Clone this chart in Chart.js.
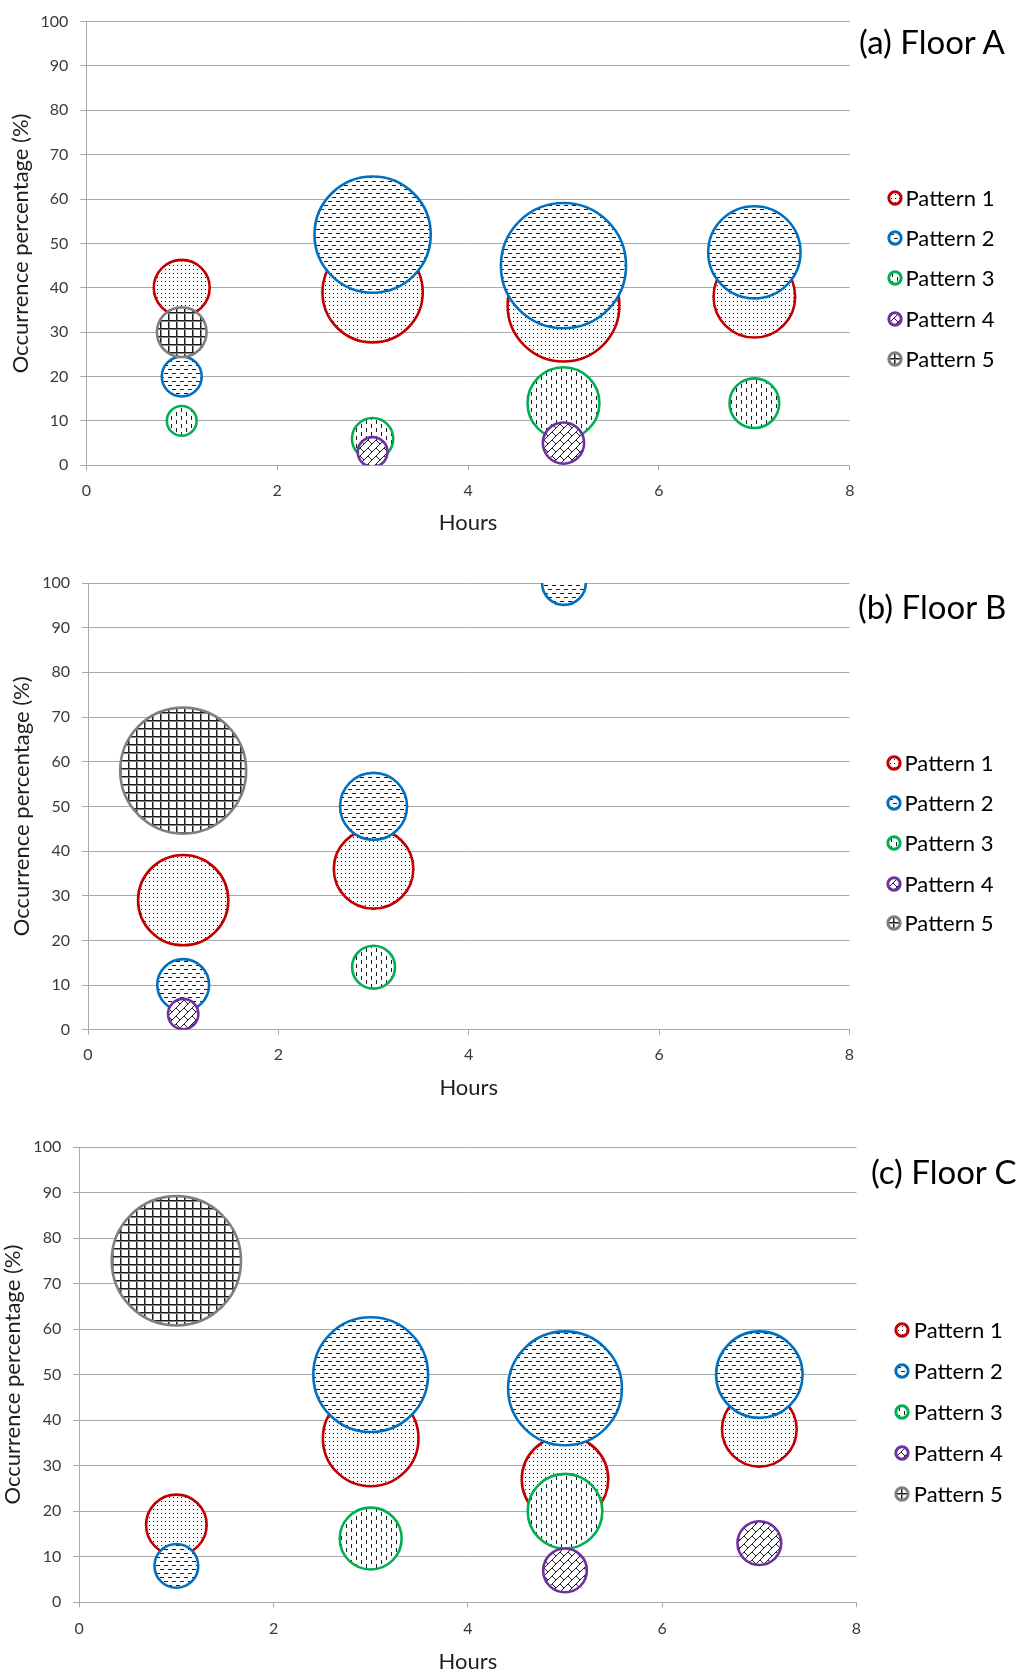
<!DOCTYPE html>
<html>
<head>
<meta charset="utf-8">
<script src="https://cdn.jsdelivr.net/npm/chart.js@4.4.1/dist/chart.umd.min.js"></script>
<style>
  html, body { margin: 0; padding: 0; background: #fff; }
  #page { position: relative; width: 1027px; height: 1675px; overflow: hidden; font-family: Lato, 'Open Sans', sans-serif; }
  canvas.panel { position: absolute; left: 0; }
  .ttl { position: absolute; font-size: 33px; line-height: 40px; color: #000; white-space: nowrap; }
  .lgtext { position: absolute; font-size: 22px; color: #000; white-space: nowrap; }
  .lgmark { position: absolute; }
</style>
</head>
<body>
<div id="page">
  <canvas id="cA" class="panel" width="1027" height="545" style="top:0px"></canvas>
  <canvas id="cB" class="panel" width="1027" height="545" style="top:560px"></canvas>
  <canvas id="cC" class="panel" width="1027" height="555" style="top:1120px"></canvas>
  <div class="ttl" style="left:859px; top:20.5px">(a) Floor A</div>
  <div class="ttl" style="left:858px; top:585.5px">(b) Floor B</div>
  <div class="ttl" style="left:871px; top:1150.5px">(c) Floor C</div>
</div>
<script>
// ---------------- DATA ----------------
const HOURS = [1, 3, 5, 7];
const PATTERNS = ['Pattern 1', 'Pattern 2', 'Pattern 3', 'Pattern 4', 'Pattern 5'];
const X_TICKS = [0, 2, 4, 6, 8];
const Y_TICKS = [0, 10, 20, 30, 40, 50, 60, 70, 80, 90, 100];

// Occurrence percentage (%) at hours 1, 3, 5, 7 (null = no bubble)
const A_P1 = [40, 39, 36, 38];
const A_P2 = [20, 52, 45, 48];
const A_P3 = [10, 6, 14, 14];
const A_P4 = [null, 3, 5, null];
const A_P5 = [30, null, null, null];
// bubble radius, in percentage points of the value axis
const A_P1_SIZE = [6.3, 11.3, 12.6, 9.2];
const A_P2_SIZE = [4.5, 13.1, 14.1, 10.4];
const A_P3_SIZE = [3.35, 4.65, 8.1, 5.6];
const A_P4_SIZE = [null, 3.35, 4.65, null];
const A_P5_SIZE = [5.6, null, null, null];

const B_P1 = [29, 36, null, null];
const B_P2 = [10, 50, 100, null];
const B_P3 = [null, 14, null, null];
const B_P4 = [3.5, null, null, null];
const B_P5 = [58, null, null, null];
const B_P1_SIZE = [10.1, 8.9, null, null];
const B_P2_SIZE = [5.8, 7.5, 4.9, null];
const B_P3_SIZE = [null, 4.8, null, null];
const B_P4_SIZE = [3.4, null, null, null];
const B_P5_SIZE = [14.1, null, null, null];

const C_P1 = [17, 36, 27, 38];
const C_P2 = [8, 50, 47, 50];
const C_P3 = [null, 14, 20, null];
const C_P4 = [null, null, 7, 13];
const C_P5 = [75, null, null, null];
const C_P1_SIZE = [6.65, 10.5, 9.5, 8.2];
const C_P2_SIZE = [4.8, 12.6, 12.5, 9.5];
const C_P3_SIZE = [null, 6.8, 8.2, null];
const C_P4_SIZE = [null, null, 4.8, 4.8];
const C_P5_SIZE = [14.2, null, null, null];

// ---------------- STYLE ----------------
const COLORS = ['#C00000', '#0070C0', '#00B050', '#7030A0', '#7F7F7F'];
const GRID = '#a9a9a9';

function makeTile(kind) {
  const t = document.createElement('canvas');
  const dims = [[4, 4], [8, 8], [10, 8], [16, 16], [8, 8]][kind];
  t.width = dims[0]; t.height = dims[1];
  const g = t.getContext('2d');
  g.fillStyle = '#fff'; g.fillRect(0, 0, t.width, t.height);
  g.fillStyle = '#1c1c1c'; g.strokeStyle = '#1c1c1c';
  if (kind === 0) {            // fine dots
    g.fillRect(1, 1, 1, 1);
  } else if (kind === 1) {     // horizontal dashes
    g.fillRect(0, 1, 4, 1); g.fillRect(4, 5, 4, 1);
  } else if (kind === 2) {     // vertical dashes
    g.fillRect(1, 0, 1, 4); g.fillRect(6, 4, 1, 4);
  } else if (kind === 3) {     // shingle / diagonal brick
    g.lineWidth = 1;
    g.beginPath();
    for (let ox = -16; ox <= 16; ox += 16) {
      for (let oy = -16; oy <= 16; oy += 16) {
        for (const c of [0, 8, 16, 24, 32]) { g.moveTo(ox + c, oy); g.lineTo(ox + c - 16, oy + 16); }
        for (const b of [[0, 0], [8, -8], [8, 0], [0, 8]]) {
          g.moveTo(ox + b[0], oy + b[1]); g.lineTo(ox + b[0] + 4, oy + b[1] + 4);
        }
      }
    }
    g.stroke();
  } else {                     // grid
    g.fillRect(0, 0, 8, 1); g.fillRect(0, 0, 1, 8);
    g.fillStyle = '#8a8a8a'; g.fillRect(0, 1, 8, 1); g.fillRect(1, 1, 1, 7);
  }
  return t;
}

const PANELS = [
  { id: 'cA', values: [A_P1, A_P2, A_P3, A_P4, A_P5], sizes: [A_P1_SIZE, A_P2_SIZE, A_P3_SIZE, A_P4_SIZE, A_P5_SIZE],
    lay: { top: 17.7, right: 177.2, yWidth: 86.3, xHeight: 79.7, yTitlePad: 7.4, xTitlePad: 8.8, xTickPad: 11 },
    legend: { markX: 894.9, textX: 905.5, rows: [198, 237.6, 278.3, 318.6, 359.2] } },
  { id: 'cB', values: [B_P1, B_P2, B_P3, B_P4, B_P5], sizes: [B_P1_SIZE, B_P2_SIZE, B_P3_SIZE, B_P4_SIZE, B_P5_SIZE],
    lay: { top: 23, right: 177.5, yWidth: 88, xHeight: 75.3, yTitlePad: 8.4, xTitlePad: 4.3, xTickPad: 10.6 },
    legend: { markX: 893.9, textX: 904.5, rows: [762.5, 802.8, 843.1, 883.7, 923.3] } },
  { id: 'cC', values: [C_P1, C_P2, C_P3, C_P4, C_P5], sizes: [C_P1_SIZE, C_P2_SIZE, C_P3_SIZE, C_P4_SIZE, C_P5_SIZE],
    lay: { top: 27, right: 170.5, yWidth: 79.2, xHeight: 72.7, yTitlePad: 0, xTitlePad: 0, xTickPad: 12 },
    legend: { markX: 902.3, textX: 913.8, rows: [1329.9, 1370.5, 1412.2, 1453.2, 1494.3] } }
];

function buildLegend(legend) {
  const page = document.getElementById('page');
  PATTERNS.forEach((name, k) => {
    const y = legend.rows[k];
    const m = document.createElement('canvas');
    m.width = 18; m.height = 18; m.className = 'lgmark';
    m.style.left = (legend.markX - 9) + 'px';
    m.style.top = (y - 9) + 'px';
    const g = m.getContext('2d');
    g.fillStyle = g.createPattern(makeTile(k), 'repeat');
    g.beginPath(); g.arc(9, 9, 6.2, 0, Math.PI * 2); g.fill();
    g.lineWidth = 2.9; g.strokeStyle = COLORS[k]; g.stroke();
    page.appendChild(m);
    const t = document.createElement('div');
    t.className = 'lgtext';
    t.textContent = name;
    t.style.left = legend.textX + 'px';
    t.style.top = (y - 15) + 'px';
    t.style.lineHeight = '30px';
    page.appendChild(t);
  });
}

function buildPanel(p) {
  const cv = document.getElementById(p.id);
  const ctx = cv.getContext('2d');
  const fills = PATTERNS.map((_, k) => ctx.createPattern(makeTile(k), 'repeat'));
  const L = p.lay;
  const datasets = PATTERNS.map((name, k) => ({
    label: name,
    data: HOURS.map((h, i) => p.values[k][i] == null ? null : { x: h, y: p.values[k][i], r: 0, s: p.sizes[k][i] }).filter(Boolean),
    backgroundColor: fills[k],
    borderColor: COLORS[k],
    borderWidth: 2.6,
    order: PATTERNS.length - 1 - k,
    clip: 0
  }));
  const tickFont = { family: 'Lato', size: 16 };
  const titleFont = { family: 'Lato', size: 22 };
  const chart = new Chart(cv, {
    type: 'bubble',
    data: { datasets },
    options: {
      responsive: false,
      animation: false,
      events: [],
      layout: { autoPadding: false, padding: { top: L.top, right: L.right, bottom: 0, left: 0 } },
      plugins: { legend: { display: false }, tooltip: { enabled: false } },
      scales: {
        x: {
          type: 'linear', position: 'bottom', min: X_TICKS[0], max: X_TICKS[X_TICKS.length - 1],
          afterBuildTicks: s => { s.ticks = X_TICKS.map(v => ({ value: v })); },
          ticks: { padding: L.xTickPad, font: tickFont, color: '#3a3a3a' },
          grid: { drawOnChartArea: false, drawTicks: true, tickLength: 5, color: GRID, lineWidth: 1 },
          border: { display: true, color: GRID, width: 1 },
          title: { display: true, text: 'Hours', font: titleFont, color: '#1e1e1e', padding: { top: 0, bottom: L.xTitlePad } },
          afterFit: s => { s.height = L.xHeight; }
        },
        y: {
          type: 'linear', position: 'left', min: Y_TICKS[0], max: Y_TICKS[Y_TICKS.length - 1],
          afterBuildTicks: s => { s.ticks = Y_TICKS.map(v => ({ value: v })); },
          ticks: { padding: 12, font: tickFont, color: '#3a3a3a' },
          grid: { drawOnChartArea: true, drawTicks: true, tickLength: 6, color: GRID, lineWidth: 1 },
          border: { display: true, color: GRID, width: 1 },
          title: { display: true, text: 'Occurrence percentage (%)', font: titleFont, color: '#1e1e1e', padding: { top: L.yTitlePad, bottom: 0 } },
          afterFit: s => { s.width = L.yWidth; }
        }
      }
    }
  });
  // bubble radius in pixels, measured through the value axis of the chart
  const ys = chart.scales.y;
  chart.data.datasets.forEach(ds => {
    ds.data = ds.data.map(pt => ({ x: pt.x, y: pt.y, s: pt.s, r: ys.getPixelForValue(0) - ys.getPixelForValue(pt.s) }));
  });
  chart.update();
  buildLegend(p.legend);
}

function buildAll() { PANELS.forEach(buildPanel); }
let built = false;
function once() { if (!built) { built = true; buildAll(); } }
if (document.fonts && document.fonts.load) {
  Promise.all([document.fonts.load('16px Lato'), document.fonts.load('22px Lato')]).then(once, once);
  setTimeout(once, 400);
} else {
  once();
}
</script>
</body>
</html>
